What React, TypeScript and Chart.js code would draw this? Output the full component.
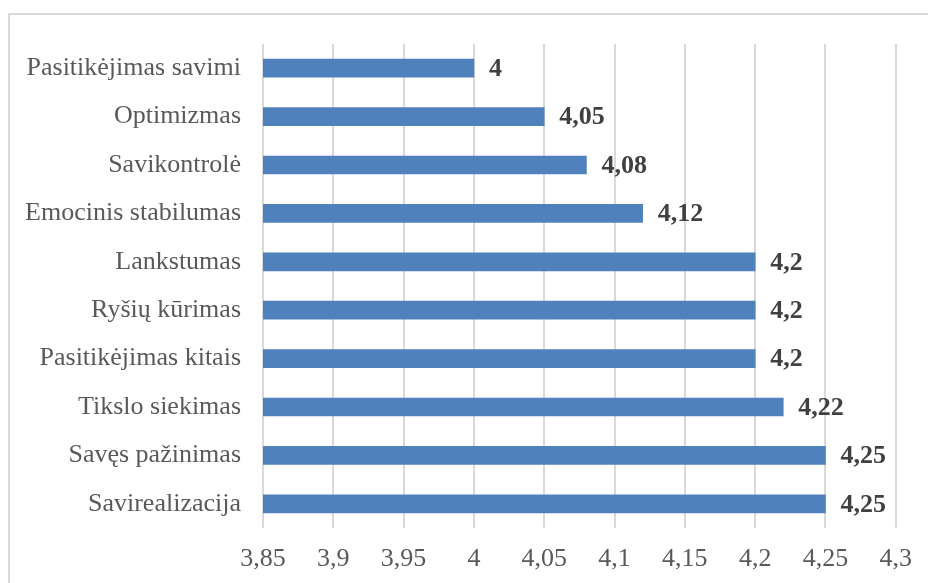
import React, { useEffect, useRef } from "react";
import { Chart, registerables } from "chart.js";

Chart.register(...registerables);

const categories = [
  "Pasitikėjimas savimi",
  "Optimizmas",
  "Savikontrolė",
  "Emocinis stabilumas",
  "Lankstumas",
  "Ryšių kūrimas",
  "Pasitikėjimas kitais",
  "Tikslo siekimas",
  "Savęs pažinimas",
  "Savirealizacija",
];

const scores = [4, 4.05, 4.08, 4.12, 4.2, 4.2, 4.2, 4.22, 4.25, 4.25];

const axisMin = 3.85;
const axisMax = 4.3;
const axisStep = 0.05;

const FONT = "'Liberation Serif', 'Times New Roman', serif";

const fmt = (v: number) =>
  String(Math.round(v * 100) / 100).replace(".", ",");

// Light frame around the whole figure
const framePlugin = {
  id: "frame",
  beforeDraw(chart: any) {
    const { ctx } = chart;
    ctx.save();
    ctx.strokeStyle = "#d9d9d9";
    ctx.lineWidth = 2;
    ctx.strokeRect(9, 14, chart.width + 20, chart.height + 20);
    ctx.restore();
  },
};

// Bold value printed after the end of each bar
const valueLabelPlugin = {
  id: "valueLabels",
  afterDatasetsDraw(chart: any) {
    const { ctx } = chart;
    const meta = chart.getDatasetMeta(0);
    ctx.save();
    ctx.font = `bold 26px ${FONT}`;
    ctx.fillStyle = "#404040";
    ctx.textAlign = "left";
    ctx.textBaseline = "middle";
    meta.data.forEach((bar: any, i: number) => {
      ctx.fillText(fmt(scores[i]), bar.x + 15, bar.y + 1);
    });
    ctx.restore();
  },
};

export default function App() {
  const ref = useRef<HTMLCanvasElement | null>(null);

  useEffect(() => {
    if (!ref.current) return;
    const chart = new Chart(ref.current, {
      type: "bar",
      data: {
        labels: categories,
        datasets: [
          {
            data: scores,
            backgroundColor: "#4F81BD",
            barThickness: 18,
          },
        ],
      },
      options: {
        indexAxis: "y",
        animation: false,
        responsive: false,
        maintainAspectRatio: false,
        layout: { padding: { top: 44, right: 31, left: 0, bottom: 0 } },
        plugins: {
          legend: { display: false },
          tooltip: { enabled: false },
        },
        scales: {
          x: {
            min: axisMin,
            max: axisMax,
            afterFit(scale: any) {
              scale.height = 55;
            },
            afterBuildTicks(scale: any) {
              const t = [];
              for (let v = axisMin; v <= axisMax + 1e-9; v += axisStep) {
                t.push({ value: Math.round(v * 100) / 100 });
              }
              scale.ticks = t;
            },
            ticks: {
              color: "#595959",
              font: { family: FONT, size: 26 },
              padding: 16,
              maxRotation: 0,
              autoSkip: false,
              callback: (v: any) => fmt(Number(v)),
            },
            grid: {
              color: "#d9d9d9",
              lineWidth: 2,
              drawTicks: false,
            },
            border: { display: false },
          },
          y: {
            afterFit(scale: any) {
              scale.width = 263;
            },
            ticks: {
              color: "#595959",
              font: { family: FONT, size: 26 },
              padding: 22,
              autoSkip: false,
            },
            grid: { display: false, drawTicks: false },
            border: { display: false },
          },
        },
      },
      plugins: [framePlugin, valueLabelPlugin],
    });
    return () => chart.destroy();
  }, []);

  return (
    <div style={{ position: "fixed", left: 0, top: 0, width: 928, height: 583, background: "#fff" }}>
      <canvas ref={ref} width={928} height={583} style={{ display: "block" }} />
    </div>
  );
}
